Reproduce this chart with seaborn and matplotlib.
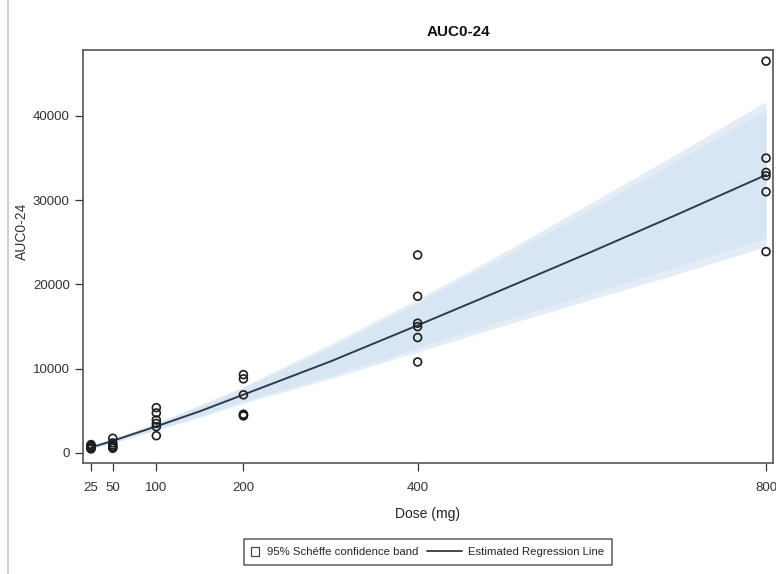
import numpy as np
import pandas as pd
import matplotlib
matplotlib.use("Agg")
import matplotlib.pyplot as plt
import seaborn as sns
from matplotlib.patches import Patch, Rectangle
from matplotlib.lines import Line2D
from matplotlib.legend_handler import HandlerPatch

# ---- data ----
dose_levels = [25, 50, 100, 200, 400, 800]
auc_25 = [1000, 850, 750, 600, 550, 480]
auc_50 = [1740, 1200, 950, 800, 650, 560]
auc_100 = [5380, 4750, 3920, 3500, 3120, 2050]
auc_200 = [9300, 8800, 6900, 4600, 4500, 4400]
auc_400 = [23500, 18600, 15400, 15000, 13700, 10800]
auc_800 = [46500, 35000, 33300, 32900, 31000, 23900]

fit_dose = [25, 50, 100, 150, 200, 300, 400, 500, 600, 700, 800]
fit_auc = [660, 1440, 3160, 4950, 6920, 10870, 15150, 19500, 23900, 28400, 33000]
band_upper = [800, 1650, 3500, 5550, 7700, 12600, 17800, 23300, 29000, 34800, 40700]
band_lower = [520, 1230, 2820, 4400, 6150, 9200, 12500, 15800, 19000, 22200, 25500]

x_ticks = [25, 50, 100, 200, 400, 800]
y_ticks = [0, 10000, 20000, 30000, 40000]

# ---- tables ----
groups = [auc_25, auc_50, auc_100, auc_200, auc_400, auc_800]
pts = pd.DataFrame({
    "Dose": np.repeat(dose_levels, [len(g) for g in groups]),
    "AUC": np.concatenate(groups),
})
fit = pd.DataFrame({"Dose": fit_dose, "AUC": fit_auc,
                    "lo": band_lower, "hi": band_upper})

sns.set_style("white")
plt.rcParams["font.family"] = ["Liberation Sans", "DejaVu Sans"]

fig = plt.figure(figsize=(7.76, 5.74), dpi=100)
ax = fig.add_axes([83 / 776, 1 - 463 / 574, 690 / 776, 413 / 574])

# soft confidence band
lo = np.array(band_lower, dtype=float)
hi = np.array(band_upper, dtype=float)
ax.fill_between(fit["Dose"], lo * 0.96, hi * 1.025, color="#e4edf7", lw=0, zorder=1)
ax.fill_between(fit["Dose"], lo, hi, color="#d8e5f2", lw=0, zorder=1)

sns.lineplot(data=fit, x="Dose", y="AUC", ax=ax, color="#2e3b4a", lw=1.4,
             zorder=3, legend=False)
sns.scatterplot(data=pts, x="Dose", y="AUC", ax=ax, marker="o", s=32,
                facecolor="none", edgecolor="#1e1e1e", linewidth=1.2,
                zorder=4, legend=False)

ax.set_xlim(15.8, 808)
ax.set_ylim(-1190, 47830)
ax.set_xticks(x_ticks)
ax.set_xticklabels([str(t) for t in x_ticks])
ax.set_yticks(y_ticks)
ax.set_yticklabels([str(t) for t in y_ticks])
ax.tick_params(axis="both", direction="out", length=6, width=0.9,
               colors="#333333", labelsize=9.5, left=True, bottom=True)
ax.tick_params(axis="x", pad=8)
for s in ax.spines.values():
    s.set_color("#555555")
    s.set_linewidth(1.2)

ax.set_xlabel("Dose (mg)", fontsize=10, color="#222222", labelpad=9)
ax.set_ylabel("AUC0-24", fontsize=10, color="#333333")
ax.yaxis.set_label_coords(-0.078, 0.56)
fig.text(458 / 776, 1 - 32 / 574, "AUC0-24", ha="center", va="center",
         fontsize=11, fontweight="bold", color="#111111")


def small_square(legend, orig_handle, xdescent, ydescent, width, height, fontsize):
    side = height * 1.0
    return Rectangle((-xdescent, -ydescent + (height - side) / 2), side * 0.85, side)


LEG_FS = 8.2
handles = [
    Patch(facecolor="white", edgecolor="#444444", linewidth=0.9,
          label="95% Schéffe confidence band"),
    Line2D([0], [0], color="#2e3b4a", lw=1.3, label="Estimated Regression Line"),
]
leg = fig.legend(handles=handles, loc="center", ncol=2,
                 bbox_to_anchor=(428 / 776, 1 - 552 / 574), frameon=True,
                 prop={"size": LEG_FS},
                 handlelength=3.0, handleheight=0.9,
                 columnspacing=0.8, handletextpad=0.6, borderpad=0.65,
                 borderaxespad=0.0, fancybox=False,
                 handler_map={Patch: HandlerPatch(patch_func=small_square)})
leg.get_frame().set_edgecolor("#333333")
leg.get_frame().set_linewidth(1.1)

# shrink the handle box of the square entry only
try:
    first_item = leg._legend_handle_box.get_children()[0].get_children()[0]
    da = first_item.get_children()[0]
    da.width = LEG_FS * 0.9 * 0.85
except Exception:
    pass

# faint outer border of the original graphic
fig.add_artist(Line2D([8 / 776, 8 / 776], [0, 1], color="#d0d0d0", lw=1.5))

fig.savefig("out.png", dpi=100)
